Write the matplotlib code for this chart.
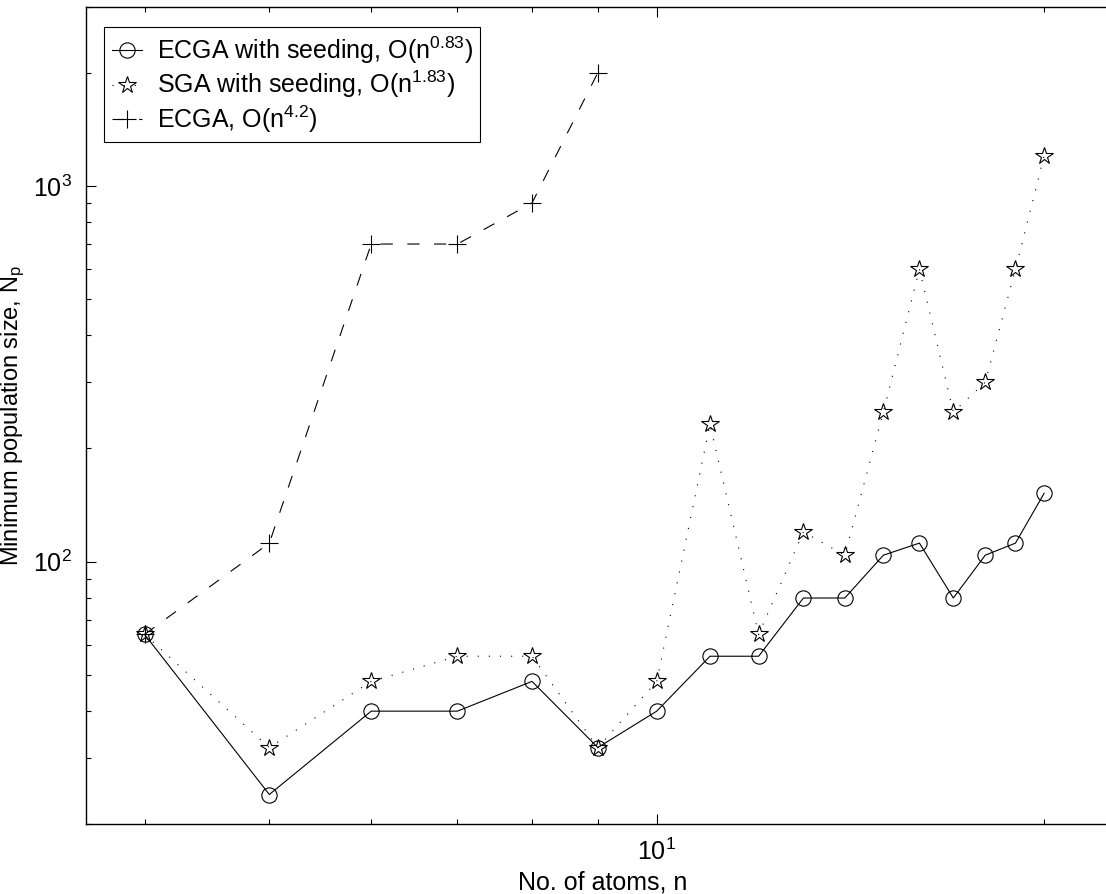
import matplotlib
matplotlib.use('Agg')
from matplotlib import pyplot as plt
from matplotlib.ticker import LogLocator, NullFormatter

plt.rcParams['font.family'] = ['Liberation Sans', 'DejaVu Sans']
plt.rcParams['mathtext.fontset'] = 'custom'
plt.rcParams['mathtext.rm'] = 'Liberation Sans'
plt.rcParams['mathtext.it'] = 'Liberation Sans:italic'
plt.rcParams['font.size'] = 18

# data
atoms = [4, 5, 6, 7, 8, 9, 10, 11, 12, 13, 14, 15, 16, 17, 18, 19, 20]
ecga_seeding = [64, 24, 40, 40, 48, 32, 40, 56, 56, 80, 80, 104, 112, 80, 104, 112, 152]
sga_seeding = [64, 32, 48, 56, 56, 32, 48, 232, 64, 120, 104, 250, 600, 250, 300, 600, 1200]
atoms_ecga = [4, 5, 6, 7, 8, 9]
ecga = [64, 112, 700, 700, 900, 2000]

labels = ['ECGA with seeding, O(n$^{0.83}$)',
          'SGA with seeding, O(n$^{1.83}$)',
          'ECGA, O(n$^{4.2}$)']

fig = plt.figure(figsize=(11.06, 8.94), dpi=100)
ax = fig.add_axes([0.0775, 0.078, 0.935, 0.9147])

ax.plot(atoms, ecga_seeding, '-', color='k', lw=0.8, marker='o',
        ms=11, mfc='none', mec='k', mew=0.8, label=labels[0])
ax.plot(atoms, sga_seeding, color='k', lw=0.8, ls=(0, (1, 9)), marker='*',
        ms=13, mfc='none', mec='k', mew=0.8, label=labels[1])
ax.plot(atoms_ecga, ecga, color='k', lw=0.8, ls=(0, (11, 13)), marker='+',
        ms=13, mec='k', mew=0.8, label=labels[2])

ax.set_xscale('log')
ax.set_yscale('log')
ax.set_xlim(3.6, 22.9)
ax.set_ylim(20, 3000)

ax.xaxis.set_major_locator(LogLocator(base=10))
ax.xaxis.set_minor_locator(LogLocator(base=10, subs=range(2, 10)))
ax.xaxis.set_minor_formatter(NullFormatter())
ax.yaxis.set_minor_formatter(NullFormatter())

ax.tick_params(which='both', direction='in', top=True, right=True, width=0.8)
ax.tick_params(which='major', length=7.2, pad=10)
ax.tick_params(which='minor', length=3.6)
for s in ax.spines.values():
    s.set_linewidth(1.0)

ax.set_xlabel('No. of atoms, n', labelpad=4)
ax.set_ylabel('Minimum population size, N$_\\mathrm{p}$', fontsize=17, labelpad=4)

leg = ax.legend(loc='upper left', bbox_to_anchor=(0.0179, 0.975), borderaxespad=0,
                fancybox=False, edgecolor='k', framealpha=1, handlelength=1.2,
                handletextpad=0.6, labelspacing=0.12, borderpad=0.3)
leg.get_frame().set_linewidth(0.8)

fig.savefig('out.png', dpi=100)
